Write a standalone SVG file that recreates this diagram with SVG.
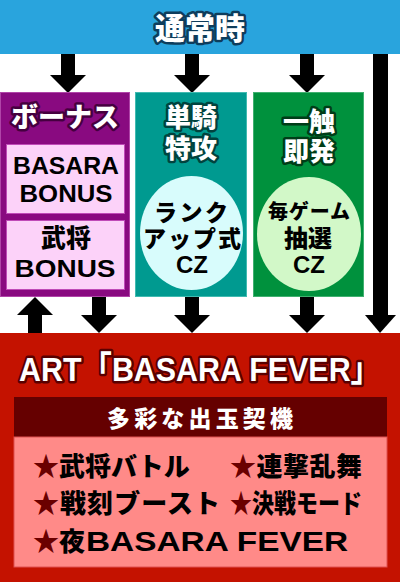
<svg xmlns="http://www.w3.org/2000/svg" width="400" height="582" viewBox="0 0 400 582">
<style>
.jp{font-family:"Noto Sans CJK JP","Noto Sans",sans-serif;font-weight:900;}
.lat{font-family:"Liberation Sans","Noto Sans CJK JP",sans-serif;font-weight:bold;}
.ol{fill:#fff;paint-order:stroke;stroke-linejoin:round;}
.blk{fill:#000;}
.star{fill:#6a0000;}
</style>
<defs>
<path id="dn" d="M-7,0 H7 V21 H18 L0,39 L-18,21 H-7 Z" fill="#000"/>
</defs>
<rect x="0" y="0" width="400" height="54" fill="#29a4dd"/>
<g id="normal">
<text x="200" y="39" text-anchor="middle" class="jp ol" font-size="30" stroke="#0e3d5c" stroke-width="5">通常時</text>
</g>
<g id="connectors">
<use href="#dn" x="68" y="54"/>
<use href="#dn" x="192" y="54"/>
<use href="#dn" x="307" y="54"/>
<rect x="373" y="54" width="15" height="262" fill="#000"/>
<path d="M365,315 H396 L380,333 Z" fill="#000"/>
<path d="M28,333 V315 H17 L35,297 L53,315 H42 V333 Z" fill="#000"/>
<path d="M92,297 H106 V315 H117 L99,333 L81,315 H92 Z" fill="#000"/>
<path d="M185,297 H199 V315 H210 L192,333 L174,315 H185 Z" fill="#000"/>
<path d="M300,297 H314 V315 H325 L307,333 L289,315 H300 Z" fill="#000"/>
</g>
<g id="bonus">
<rect x="0.5" y="92.5" width="129" height="204" fill="#890a80" stroke="#b044a8" stroke-width="1"/>
<text x="65" y="127" text-anchor="middle" class="jp ol" font-size="27" stroke="#45003f" stroke-width="5">ボーナス</text>
<rect x="6.5" y="144.5" width="118" height="69" fill="#fcd2f9" stroke="#c04ab8" stroke-width="1"/>
<text x="66" y="174" text-anchor="middle" class="lat blk" font-size="23" textLength="106" lengthAdjust="spacingAndGlyphs">BASARA</text>
<text x="66" y="202" text-anchor="middle" class="lat blk" font-size="23" textLength="93" lengthAdjust="spacingAndGlyphs">BONUS</text>
<rect x="6.5" y="220.5" width="118" height="69" fill="#fcd2f9" stroke="#c04ab8" stroke-width="1"/>
<text x="66" y="247" text-anchor="middle" class="jp blk" font-size="25">武将</text>
<text x="65" y="277" text-anchor="middle" class="lat blk" font-size="24" textLength="101" lengthAdjust="spacingAndGlyphs">BONUS</text>
</g>
<g id="tanki">
<rect x="135.5" y="92.5" width="111" height="204" fill="#009a90" stroke="#40bab0" stroke-width="1"/>
<text x="191" y="127" text-anchor="middle" class="jp ol" font-size="26" stroke="#00433e" stroke-width="5">単騎</text>
<text x="191" y="158" text-anchor="middle" class="jp ol" font-size="26" stroke="#00433e" stroke-width="5">特攻</text>
<ellipse cx="191.5" cy="233" rx="51.5" ry="57" fill="#d8fcfc"/>
<text x="191" y="221" text-anchor="middle" class="jp blk" font-size="23" textLength="74">ランク</text>
<text x="192" y="247" text-anchor="middle" class="jp blk" font-size="23" textLength="98">アップ式</text>
<text x="192" y="273" text-anchor="middle" class="lat blk" font-size="24">CZ</text>
</g>
<g id="issoku">
<rect x="253.5" y="92.5" width="110" height="204" fill="#00913d" stroke="#40b070" stroke-width="1"/>
<text x="309" y="131" text-anchor="middle" class="jp ol" font-size="26" stroke="#003d18" stroke-width="5">一触</text>
<text x="309" y="161" text-anchor="middle" class="jp ol" font-size="26" stroke="#003d18" stroke-width="5">即発</text>
<ellipse cx="309" cy="234" rx="52" ry="57" fill="#d2f8c8"/>
<text x="309" y="219" text-anchor="middle" class="jp blk" font-size="20" textLength="82">毎ゲーム</text>
<text x="308" y="247" text-anchor="middle" class="jp blk" font-size="24">抽選</text>
<text x="309" y="273" text-anchor="middle" class="lat blk" font-size="24">CZ</text>
</g>
<g id="art">
<rect x="0" y="333" width="400" height="249" fill="#c41200"/>
<text x="200" y="381" text-anchor="middle" class="lat ol" font-size="34" stroke="#5a0000" stroke-width="5" textLength="362" lengthAdjust="spacingAndGlyphs">ART「BASARA FEVER」</text>
<rect x="14" y="397" width="373" height="40" fill="#650000"/>
<text x="200" y="427" text-anchor="middle" class="jp" fill="#fff" font-size="23" textLength="186">多彩な出玉契機</text>
<rect x="14" y="437" width="373" height="130" fill="#ff8a88" stroke="#e05050" stroke-width="1"/>
<g class="jp" font-size="26">
<text x="33" y="476"><tspan class="star">★</tspan><tspan class="blk">武将バトル</tspan></text>
<text x="230" y="476" textLength="132"><tspan class="star">★</tspan><tspan class="blk">連撃乱舞</tspan></text>
<text x="33" y="513" textLength="187"><tspan class="star">★</tspan><tspan class="blk">戦刻ブースト</tspan></text>
<text x="230" y="513" textLength="132" lengthAdjust="spacingAndGlyphs"><tspan class="star">★</tspan><tspan class="blk">決戦モード</tspan></text>
<text x="33" y="551"><tspan class="star">★</tspan><tspan class="blk">夜</tspan></text>
<text x="86" y="551" class="lat blk" font-size="28" textLength="262" lengthAdjust="spacingAndGlyphs">BASARA FEVER</text>
</g>
</g>
</svg>
